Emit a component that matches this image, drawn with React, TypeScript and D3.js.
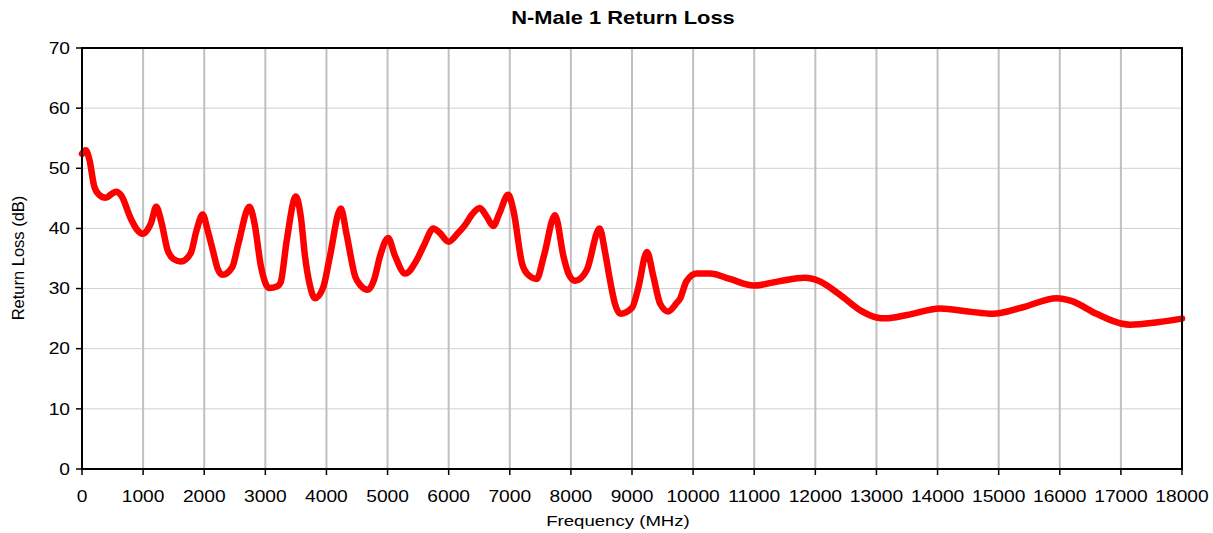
import React from 'react';
import * as d3 from 'd3';

// Return loss trace (MHz, dB)
const freqs = [
  0, 60, 120, 200, 280, 390, 480, 560, 640, 800, 900, 990, 1080, 1130, 1215, 1300, 1400, 1500, 1620, 1780,
  1870, 1975, 2060, 2140, 2220, 2300, 2460, 2560, 2740, 2820, 2930, 3060, 3200, 3250, 3350, 3500, 3580, 3650,
  3730, 3810, 3950, 4050, 4235, 4330, 4470, 4560, 4680, 4780, 4880, 5010, 5120, 5290, 5480, 5600, 5750, 5850,
  6000, 6150, 6270, 6380, 6510, 6620, 6730, 6830, 6975, 7060, 7200, 7300, 7440, 7560, 7740, 7880, 7960, 8070,
  8260, 8470, 8560, 8640, 8720, 8810, 9000, 9100, 9245, 9350, 9460, 9590, 9730, 9790, 9890, 10060, 10280,
  10600, 10990, 11400, 11830, 12050, 12400, 12750, 13000, 13150, 13500, 14040, 14500, 14900, 15400, 15950,
  16200, 16600, 17000, 17150, 17600, 18000,
];
const returnLoss = [
  52.4, 53.0, 51.5, 47.0, 45.6, 45.1, 45.7, 46.1, 45.5, 41.6, 39.8, 39.1, 39.9, 40.9, 43.6, 41.0, 36.4, 34.9, 34.5, 35.9,
  39.5, 42.3, 39.5, 36.4, 33.3, 32.3, 33.6, 37.5, 43.6, 41.0, 33.6, 30.1, 30.4, 31.0, 38.0, 45.3, 42.0, 35.3,
  30.5, 28.4, 30.3, 35.0, 43.3, 39.0, 32.0, 30.5, 29.8, 31.5, 35.5, 38.4, 35.5, 32.5, 34.8, 37.3, 40.0, 39.3,
  37.8, 39.2, 40.6, 42.3, 43.4, 42.0, 40.4, 42.5, 45.6, 43.0, 34.2, 32.3, 31.6, 35.5, 42.2, 35.3, 32.5, 31.3,
  33.1, 40.0, 36.0, 31.4, 27.5, 25.8, 26.8, 30.0, 36.1, 32.0, 27.5, 26.2, 27.6, 28.4, 31.2, 32.5, 32.5,
  31.6, 30.5, 31.2, 31.8, 31.3, 29.0, 26.3, 25.2, 25.05, 25.6, 26.7, 26.2, 25.8, 26.9, 28.4,
  27.9, 25.8, 24.2, 24.0, 24.4, 25.0,
];
const xTicks = d3.range(0, 18001, 1000);
const yTicks = d3.range(0, 71, 10);

const W = 1213;
const H = 533;
const margin = { top: 48, right: 31, bottom: 64, left: 82 };
const font = 'Arial, "Liberation Sans", sans-serif';
// the source image text is a little wider than plain Arial
const stretch = 1.2;

export default function App() {
  const x = d3.scaleLinear().domain([0, 18000]).range([margin.left, W - margin.right]);
  const y = d3.scaleLinear().domain([0, 70]).range([H - margin.bottom, margin.top]);

  const points: [number, number][] = freqs.map((f, i) => [f, returnLoss[i]]);
  const line = d3
    .line<[number, number]>()
    .x((d) => x(d[0]))
    .y((d) => y(d[1]))
    .curve(d3.curveMonotoneX);

  const x0 = x(0);
  const x1 = x(18000);
  const y0 = y(0);
  const y1 = y(70);

  return (
    <svg
      width={W}
      height={H}
      style={{ position: 'absolute', left: 0, top: 0, background: '#fff' }}
      fontFamily={font}
    >
      {/* horizontal grid */}
      {yTicks.map((t) => (
        <line key={'h' + t} x1={x0} x2={x1} y1={y(t)} y2={y(t)} stroke="#d0d0d0" strokeWidth={1} />
      ))}
      {/* vertical grid */}
      {xTicks.map((t) => (
        <line key={'v' + t} x1={x(t)} x2={x(t)} y1={y1} y2={y0} stroke="#c0c0c0" strokeWidth={2} />
      ))}

      {/* trace */}
      <path d={line(points) ?? ''} fill="none" stroke="#ff0000" strokeWidth={6.5} strokeLinejoin="round" strokeLinecap="round" />

      {/* frame */}
      <rect x={x0} y={y1} width={x1 - x0} height={y0 - y1} fill="none" stroke="#000" strokeWidth={2} />

      {/* y ticks */}
      {yTicks.map((t) => (
        <g key={'yt' + t}>
          <line x1={x0 - 6} x2={x0} y1={y(t)} y2={y(t)} stroke="#000" strokeWidth={1.5} />
          <text
            transform={`translate(${x0 - 12},${y(t)}) scale(${stretch},1)`}
            dy="0.36em"
            textAnchor="end"
            fontSize={16}
            fill="#000"
          >
            {t}
          </text>
        </g>
      ))}

      {/* x ticks */}
      {xTicks.map((t) => (
        <g key={'xt' + t}>
          <line x1={x(t)} x2={x(t)} y1={y0} y2={y0 + 6} stroke="#000" strokeWidth={1.5} />
          <text
            transform={`translate(${x(t)},${y0 + 33}) scale(${stretch},1)`}
            textAnchor="middle"
            fontSize={16}
            fill="#000"
          >
            {t}
          </text>
        </g>
      ))}

      <text transform={`translate(623,24) scale(1.25,1)`} textAnchor="middle" fontSize={17.5} fontWeight="bold" fill="#000">
        N-Male 1 Return Loss
      </text>
      <text transform={`translate(618,526) scale(${stretch},1)`} textAnchor="middle" fontSize={15.5} fill="#000">
        Frequency (MHz)
      </text>
      <text transform={`translate(24, 258) rotate(-90)`} textAnchor="middle" fontSize={16.5} fill="#000">
        Return Loss (dB)
      </text>
    </svg>
  );
}
